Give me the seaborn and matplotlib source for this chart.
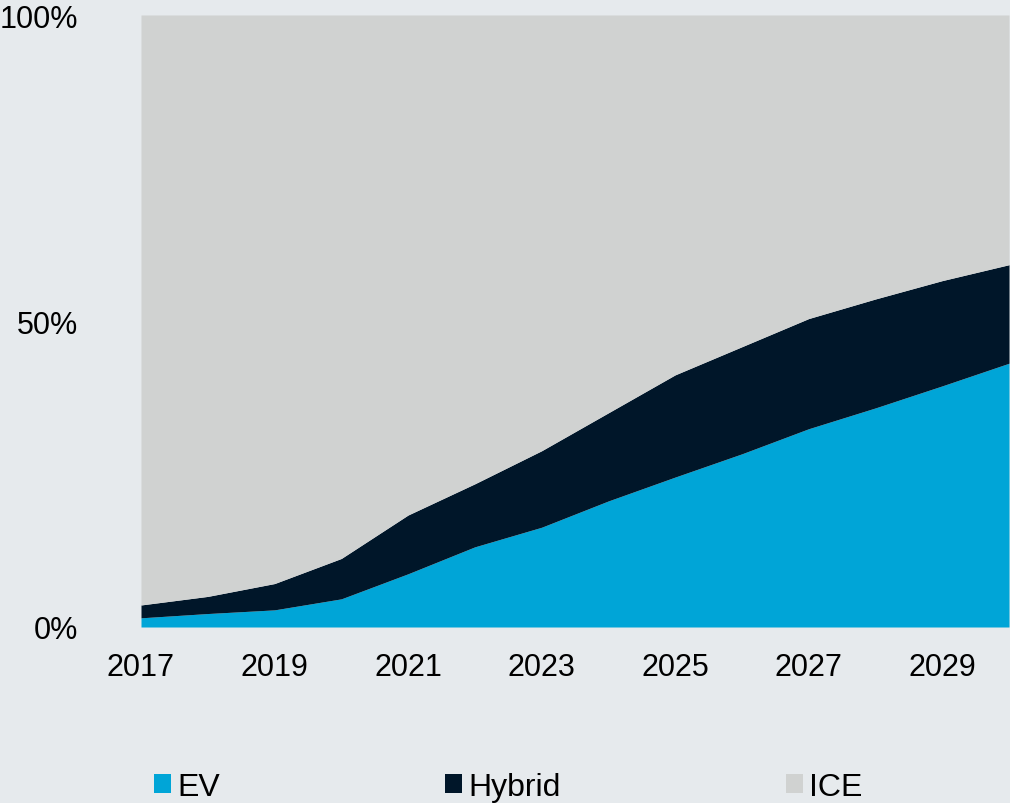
import matplotlib
matplotlib.use("Agg")
import matplotlib.pyplot as plt
import seaborn as sns
import numpy as np
from matplotlib.patches import Patch
from matplotlib.ticker import FuncFormatter

years = [2017, 2018, 2019, 2020, 2021, 2022, 2023, 2024, 2025, 2026, 2027, 2028, 2029, 2030]
ev = [1.5, 2.2, 2.8, 4.6, 8.7, 13.1, 16.3, 20.6, 24.5, 28.3, 32.4, 35.8, 39.4, 43.1]
hybrid = [2.1, 2.8, 4.3, 6.6, 9.6, 10.3, 12.5, 14.4, 16.7, 17.5, 18.0, 17.8, 17.2, 16.1]
ice = [100 - a - b for a, b in zip(ev, hybrid)]
series_names = ["EV", "Hybrid", "ICE"]
x_ticks = [2017, 2019, 2021, 2023, 2025, 2027, 2029]
y_ticks = [0, 50, 100]

colors = ["#00A5D7", "#001629", "#D0D2D1"]
bg = "#E6EAED"

sns.set_theme(style="white", rc={"axes.facecolor": bg, "figure.facecolor": bg})
plt.rcParams["font.family"] = ["Liberation Sans", "DejaVu Sans"]

fig = plt.figure(figsize=(10.10, 8.04), dpi=100)
ax = fig.add_axes([141 / 1010, 1 - 628 / 804, 868 / 1010, 612 / 804])
ax.stackplot(years, ev, hybrid, ice, colors=colors, linewidth=0, labels=series_names)

ax.set_xlim(2017, 2030)
ax.set_ylim(0, 100)
ax.set_xticks(x_ticks)
ax.set_yticks(y_ticks)
ax.yaxis.set_major_formatter(FuncFormatter(lambda v, p: f"{int(v)}%"))
ax.tick_params(axis="both", length=0, labelsize=22, colors="black")
ax.tick_params(axis="y", pad=45)
ax.tick_params(axis="x", pad=18)
for s in ax.spines.values():
    s.set_visible(False)
ax.grid(False)

handles = [Patch(facecolor=c, edgecolor="none") for c in colors]
fig.legend(handles, series_names, loc="center left",
           bbox_to_anchor=(154 / 1010, 1 - 788 / 804), ncol=3, frameon=False,
           fontsize=23, handlelength=0.53, handleheight=0.53, handletextpad=0.2,
           columnspacing=7.05, borderpad=0, borderaxespad=0, labelcolor="black")

fig.savefig("out.png", dpi=100, facecolor=bg)
